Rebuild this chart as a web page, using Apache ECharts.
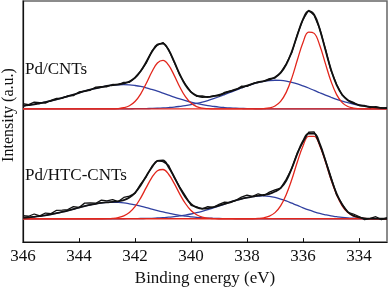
<!DOCTYPE html>
<html>
<head>
<meta charset="utf-8">
<script src="https://cdn.jsdelivr.net/npm/echarts@6/dist/echarts.min.js"></script>
<style>html,body{margin:0;padding:0;background:#fff;}#c{width:388px;height:292px;}</style>
</head>
<body>
<div id="c"></div>
<script>
// Binding energy grid (eV)
const energy = [346.0,345.8,345.6,345.4,345.2,345.0,344.8,344.6,344.4,344.2,344.0,343.8,343.6,343.4,343.2,343.0,342.8,342.6,342.4,342.2,342.0,341.8,341.6,341.4,341.2,341.0,340.8,340.6,340.4,340.2,340.0,339.8,339.6,339.4,339.2,339.0,338.8,338.6,338.4,338.2,338.0,337.8,337.6,337.4,337.2,337.0,336.8,336.6,336.4,336.2,336.0,335.8,335.6,335.4,335.2,335.0,334.8,334.6,334.4,334.2,334.0,333.8,333.6,333.4,333.2,333.0];
const xTicks = [346,344,342,340,338,336,334];
const panelLabels = ['Pd/CNTs','Pd/HTC-CNTs'];
const panelOffsets = [137, 24];

// Pd/CNTs (upper spectrum)
const cntRaw = [5.3,4.5,7.0,6.5,6.0,8.9,10.9,11.0,13.4,13.7,17.4,18.3,19.2,22.4,22.8,22.8,25.1,25.0,27.3,27.4,32.4,38.9,47.1,59.3,65.7,68.3,61.2,48.1,34.6,25.2,17.6,13.0,13.3,12.0,13.5,13.4,17.0,18.5,19.7,23.3,23.2,26.0,27.9,28.3,31.2,31.8,37.4,46.4,57.8,76.7,92.0,101.4,96.2,82.2,61.9,39.5,25.3,14.2,9.1,6.8,3.5,3.5,1.3,2.4,0.9,1.2];
const cntFit = [3.0,3.8,4.7,5.8,6.9,8.3,9.8,11.3,13.0,14.7,16.5,18.2,19.8,21.2,22.5,23.6,24.4,25.2,26.3,28.1,31.9,38.7,48.2,58.5,66.1,67.1,60.6,48.6,35.5,24.5,17.3,13.6,12.2,12.3,13.1,14.4,16.1,18.0,20.0,22.0,24.0,25.8,27.3,28.7,30.2,32.5,37.1,45.6,59.0,76.2,92.1,100.5,96.8,81.8,60.8,40.4,24.6,14.5,8.9,5.8,4.0,2.9,2.1,1.5,1.1,0.8];
const cntPd0a = [0,0,0,0,0,0,0,0,0,0,0,0,0,0,0,0,0,0.4,1.2,3.2,7.6,15.3,26.1,38.0,47.2,49.9,45.0,34.5,22.6,12.6,6.0,2.4,0.8,0.25,0,0,0,0,0,0,0,0,0,0,0,0,0,0,0,0,0,0,0,0,0,0,0,0,0,0,0,0,0,0,0,0];
const cntPd0b = [0,0,0,0,0,0,0,0,0,0,0,0,0,0,0,0,0,0,0,0,0,0,0,0,0,0,0,0,0,0,0,0,0,0,0,0,0,0,0,0,0,0,0,0.3,1.0,3.0,7.8,17.0,31.7,50.5,68.4,79.0,77.7,65.2,46.6,28.4,14.7,6.5,2.5,0.8,0.2,0,0,0,0,0];
const cntPdOa = [3.0,3.8,4.7,5.8,6.9,8.3,9.8,11.3,13.0,14.7,16.5,18.2,19.8,21.2,22.5,23.6,24.4,24.8,25.0,24.8,24.1,23.1,21.7,20.0,18.2,16.2,14.2,12.2,10.3,8.5,6.9,5.6,4.4,3.4,2.6,1.9,1.4,1.0,0.7,0.5,0.3,0.2,0.1,0,0,0,0,0,0,0,0,0,0,0,0,0,0,0,0,0,0,0,0,0,0,0];
const cntPdOb = [0,0,0,0,0,0,0,0,0,0,0,0,0,0,0,0,0,0,0,0.1,0.2,0.25,0.35,0.5,0.7,1.0,1.4,1.9,2.6,3.4,4.4,5.6,7.0,8.6,10.5,12.5,14.7,17.0,19.3,21.5,23.7,25.6,27.2,28.4,29.2,29.5,29.3,28.6,27.3,25.7,23.7,21.5,19.1,16.6,14.2,12.0,9.9,8.0,6.4,5.0,3.8,2.9,2.1,1.5,1.1,0.8];

// Pd/HTC-CNTs (lower spectrum)
const htcRaw = [3.1,2.6,4.9,3.0,5.9,5.3,8.7,8.8,9.5,12.5,11.7,16.1,16.4,16.0,19.2,18.3,19.7,17.7,21.9,23.3,26.2,35.7,43.2,53.7,59.8,58.8,55.1,42.6,32.6,23.6,13.9,12.3,10.1,12.4,11.8,14.8,17.2,16.7,19.0,22.2,24.4,23.0,25.7,23.7,27.4,29.8,31.5,40.5,51.7,68.1,78.8,89.0,89.3,76.1,60.2,42.9,24.5,15.0,6.7,4.9,2.3,-0.9,0.5,2.1,-0.8,1.2];
const htcFit = [1.0,1.4,2.0,2.7,3.5,4.5,5.7,7.0,8.4,9.9,11.5,12.9,14.3,15.4,16.3,16.9,17.4,18.0,19.2,21.8,26.7,34.2,43.8,52.8,59.5,60.0,53.1,43.0,31.8,22.2,15.4,11.7,10.4,10.7,11.9,13.5,15.3,17.2,18.9,20.5,21.8,22.8,23.7,24.5,25.6,28.0,31.5,39.0,52.0,67.0,80.0,87.5,87.5,77.0,60.0,41.5,26.0,14.4,7.1,3.2,1.4,0.5,0.2,0.1,0,0];
const htcPd0a = [0,0,0,0,0,0,0,0,0,0,0,0,0,0,0,0.1,0.4,1.2,2.9,6.4,12.4,21.3,32.0,42.4,49.4,50.7,45.8,36.4,25.4,15.7,8.5,4.1,1.7,0.6,0.2,0,0,0,0,0,0,0,0,0,0,0,0,0,0,0,0,0,0,0,0,0,0,0,0,0,0,0,0,0,0,0];
const htcPd0b = [0,0,0,0,0,0,0,0,0,0,0,0,0,0,0,0,0,0,0,0,0,0,0,0,0,0,0,0,0,0,0,0,0,0,0,0,0,0,0,0,0,0,0.3,1.0,2.7,6.3,13.3,24.8,40.4,58.6,74.9,84.7,84.7,74.9,58.6,40.4,24.8,13.3,6.3,2.7,1.0,0.3,0,0,0,0];
const htcPdOa = [1.0,1.4,2.0,2.7,3.5,4.5,5.7,7.0,8.4,9.9,11.5,12.9,14.3,15.4,16.3,16.8,17.0,16.8,16.3,15.4,14.3,12.9,11.5,9.9,8.4,7.0,5.7,4.5,3.5,2.7,2.0,1.4,1.0,0.7,0.5,0.3,0.2,0.1,0,0,0,0,0,0,0,0,0,0,0,0,0,0,0,0,0,0,0,0,0,0,0,0,0,0,0,0];
const htcPdOb = [0,0,0,0,0,0,0,0,0,0,0,0,0,0,0,0,0,0,0,0.1,0.15,0.25,0.35,0.5,0.8,1.1,1.6,2.1,2.9,3.8,4.9,6.2,7.7,9.4,11.2,13.2,15.1,17.1,18.9,20.5,21.8,22.8,23.4,23.5,23.0,21.9,20.3,18.3,16.0,13.7,11.3,9.1,7.2,5.5,4.1,2.9,2.1,1.4,0.9,0.6,0.4,0.2,0.15,0.1,0.05,0];

const RED = '#e2261c', BLUE = '#3040a0', BLACK = '#111111';
const FONT = '"Liberation Serif","Times New Roman",serif';

function pts(vals, off) { return energy.map((e, i) => [e, vals[i] + off]); }
function line(name, vals, off, color, width, smooth, z) {
  return { name, type: 'line', data: pts(vals, off), showSymbol: false, symbol: 'none',
    smooth: smooth, lineStyle: { color, width }, z: z, silent: true };
}

const panels = [
  [cntRaw, cntFit, cntPd0a, cntPd0b, cntPdOa, cntPdOb],
  [htcRaw, htcFit, htcPd0a, htcPd0b, htcPdOa, htcPdOb]
];
const series = [];
panels.forEach((p, k) => {
  const off = panelOffsets[k];
  series.push(line('blueA' + k, p[4], off, BLUE, 1.3, 0.4, 2));
  series.push(line('blueB' + k, p[5], off, BLUE, 1.3, 0.4, 2));
  series.push(line('redA' + k, p[2], off, RED, 1.3, 0.4, 3));
  series.push(line('redB' + k, p[3], off, RED, 1.3, 0.4, 3));
  series.push(line('fit' + k, p[1], off, BLACK, 1.8, 0.4, 4));
  series.push(line('raw' + k, p[0], off, BLACK, 1.3, false, 5));
});

const chart = echarts.init(document.getElementById('c'), null, { renderer: 'canvas' });
chart.setOption({
  animation: false,
  backgroundColor: '#fff',
  grid: { left: 23, right: 1, top: 1, bottom: 43, show: true, borderColor: '#666', borderWidth: 1.5, backgroundColor: 'transparent' },
  xAxis: {
    type: 'value', min: 333, max: 346, inverse: true,
    name: 'Binding energy (eV)', nameLocation: 'middle', nameGap: 22,
    nameTextStyle: { fontFamily: FONT, fontSize: 17, color: '#111' },
    axisLine: { show: true, lineStyle: { color: '#111', width: 1.2 } },
    axisTick: { show: true, inside: true, length: 4, lineStyle: { color: '#111' }, customValues: xTicks },
    axisLabel: { fontFamily: FONT, fontSize: 17, color: '#111', margin: 6, customValues: xTicks },
    splitLine: { show: false }
  },
  yAxis: {
    type: 'value', min: 0, max: 248,
    axisLine: { show: true, lineStyle: { color: '#111', width: 1.2 } },
    axisTick: { show: false }, axisLabel: { show: false }, splitLine: { show: false }
  },
  graphic: [
    { type: 'text', x: 9, y: 115, rotation: Math.PI / 2,
      style: { text: 'Intensity (a.u.)', font: '16px ' + FONT, fill: '#111', textAlign: 'center', textVerticalAlign: 'middle' } },
    { type: 'text', x: 25, y: 70, style: { text: panelLabels[0], font: '17px ' + FONT, fill: '#111', textAlign: 'left', textVerticalAlign: 'middle' } },
    { type: 'text', x: 25, y: 176, style: { text: panelLabels[1], font: '17px ' + FONT, fill: '#111', textAlign: 'left', textVerticalAlign: 'middle' } }
  ],
  series: series
});
</script>
</body>
</html>
